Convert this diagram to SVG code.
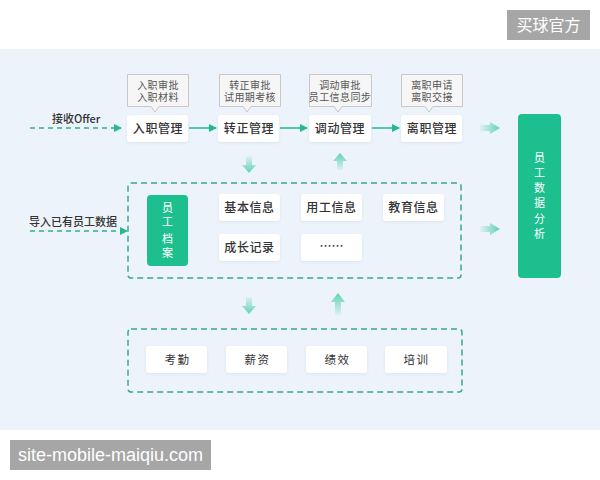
<svg xmlns="http://www.w3.org/2000/svg" width="600" height="480" viewBox="0 0 600 480">
<defs>
<style>
.t{font-family:"Noto Sans CJK SC","Noto Sans",sans-serif;}
.node{fill:#ffffff;filter:url(#sh);}
.nt{font-size:12px;fill:#333;font-weight:500;text-anchor:middle;letter-spacing:0.6px;}
.bt{font-size:11.5px;fill:#333;text-anchor:middle;letter-spacing:1.5px;}
.tip{fill:#f6f6f6;stroke:#c8c8c8;stroke-width:1;}
.tt{font-size:10px;fill:#555;text-anchor:middle;letter-spacing:0.4px;}
.vt{font-size:11px;fill:#ffffff;text-anchor:middle;}
.green{fill:#1dbf8e;}
.dbox{fill:none;stroke:#3aa88a;stroke-width:1.5;stroke-dasharray:6 4;}
.dl{stroke:#2fb08a;stroke-width:1.5;stroke-dasharray:5 4;fill:none;}
.sl{stroke:#22b98b;stroke-width:1.5;fill:none;}
.lbl{font-size:11px;fill:#333;font-weight:500;}
</style>
<filter id="sh" x="-20%" y="-30%" width="140%" height="160%">
<feDropShadow dx="0" dy="1" stdDeviation="1.5" flood-color="#9fb3c8" flood-opacity="0.25"/>
</filter>
<marker id="ah" markerWidth="8" markerHeight="8" refX="7" refY="4" orient="auto" markerUnits="userSpaceOnUse">
<path d="M0,0 L8,4 L0,8 Z" fill="#22b98b"/>
</marker>
<linearGradient id="gr" x1="0" y1="0" x2="1" y2="0">
<stop offset="0" stop-color="#5fd3b0" stop-opacity="0.1"/>
<stop offset="1" stop-color="#5fd3b0" stop-opacity="1"/>
</linearGradient>
<linearGradient id="gd" x1="0" y1="0" x2="0" y2="1">
<stop offset="0" stop-color="#5fd3b0" stop-opacity="0.1"/>
<stop offset="1" stop-color="#5fd3b0" stop-opacity="1"/>
</linearGradient>
<linearGradient id="gu" x1="0" y1="1" x2="0" y2="0">
<stop offset="0" stop-color="#5fd3b0" stop-opacity="0.1"/>
<stop offset="1" stop-color="#5fd3b0" stop-opacity="1"/>
</linearGradient>
</defs>
<rect x="0" y="0" width="600" height="480" fill="#ffffff"/>
<rect x="0" y="49" width="600" height="381" fill="#edf3fb"/>

<g id="connectors">
<line class="dl" x1="30" y1="128" x2="121" y2="128" marker-end="url(#ah)"/>
<line class="dl" x1="30" y1="231" x2="127" y2="231" marker-end="url(#ah)"/>
<line class="sl" x1="189" y1="128" x2="216" y2="128" marker-end="url(#ah)"/>
<line class="sl" x1="280" y1="128" x2="307" y2="128" marker-end="url(#ah)"/>
<line class="sl" x1="372" y1="128" x2="399" y2="128" marker-end="url(#ah)"/>
<path d="M480,125 L490,125 L490,122 L500,128 L490,134 L490,131 L480,131 Z" fill="url(#gr)"/>
<path d="M480,226 L490,226 L490,223 L500,229 L490,235 L490,232 L480,232 Z" fill="url(#gr)"/>
<path d="M246,156 L252,156 L252,165 L256,165 L249,173 L242,165 L246,165 Z" fill="url(#gd)"/>
<path d="M337,170 L343,170 L343,161 L347,161 L340,153 L333,161 L337,161 Z" fill="url(#gu)"/>
<path d="M246,297 L252,297 L252,306 L256,306 L249,314 L242,306 L246,306 Z" fill="url(#gd)"/>
<path d="M335,315 L341,315 L341,302 L345,302 L338,293 L331,302 L335,302 Z" fill="url(#gu)"/>
<text class="t lbl" x="52" y="123">接收Offer</text>
<text class="t lbl" x="29" y="226">导入已有员工数据</text>
</g>

<g id="tip1">
<path class="tip" d="M127.5,74.5 H188.5 V106.5 H159 L155,112 L151,106.5 H127.5 Z"/>
<text class="t tt" x="158" y="89">入职审批<tspan x="158" dy="11.5">入职材料</tspan></text>
</g>
<g id="tip2">
<path class="tip" d="M219.5,74.5 H280.5 V106.5 H251 L247,112 L243,106.5 H219.5 Z"/>
<text class="t tt" x="250" y="89">转正审批<tspan x="250" dy="11.5">试用期考核</tspan></text>
</g>
<g id="tip3">
<path class="tip" d="M309.5,74.5 H371.5 V106.5 H342 L338,112 L334,106.5 H309.5 Z"/>
<text class="t tt" x="340" y="89">调动审批<tspan x="340" dy="11.5">员工信息同步</tspan></text>
</g>
<g id="tip4">
<path class="tip" d="M401.5,74.5 H462.5 V106.5 H433 L429,112 L425,106.5 H401.5 Z"/>
<text class="t tt" x="432" y="89">离职申请<tspan x="432" dy="11.5">离职交接</tspan></text>
</g>

<g id="n-ruzhi"><rect class="node" x="127" y="115" width="61" height="27" rx="3"/><text class="t nt" x="158" y="133">入职管理</text></g>
<g id="n-zhuanzheng"><rect class="node" x="218" y="115" width="61" height="27" rx="3"/><text class="t nt" x="249" y="133">转正管理</text></g>
<g id="n-diaodong"><rect class="node" x="309" y="115" width="62" height="27" rx="3"/><text class="t nt" x="340" y="133">调动管理</text></g>
<g id="n-lizhi"><rect class="node" x="401" y="115" width="61" height="27" rx="3"/><text class="t nt" x="432" y="133">离职管理</text></g>

<g id="n-analysis">
<rect class="green" x="518" y="114" width="43" height="164" rx="4"/>
<text class="t vt" x="539.5" y="162">员</text>
<text class="t vt" x="539.5" y="177">工</text>
<text class="t vt" x="539.5" y="192">数</text>
<text class="t vt" x="539.5" y="207">据</text>
<text class="t vt" x="539.5" y="223">分</text>
<text class="t vt" x="539.5" y="238">析</text>
</g>

<g id="archive-group">
<rect class="dbox" x="128" y="183" width="333" height="95" rx="3"/>
</g>
<g id="n-archive">
<rect class="green" x="147" y="195" width="41" height="71" rx="4"/>
<text class="t vt" x="167.5" y="212">员</text>
<text class="t vt" x="167.5" y="226">工</text>
<text class="t vt" x="167.5" y="243">档</text>
<text class="t vt" x="167.5" y="257">案</text>
</g>
<g id="n-basic"><rect class="node" x="219" y="194" width="61" height="27" rx="3"/><text class="t nt" x="249.5" y="212">基本信息</text></g>
<g id="n-employ"><rect class="node" x="301" y="194" width="61" height="27" rx="3"/><text class="t nt" x="331.5" y="212">用工信息</text></g>
<g id="n-edu"><rect class="node" x="383" y="194" width="61" height="27" rx="3"/><text class="t nt" x="413.5" y="212">教育信息</text></g>
<g id="n-growth"><rect class="node" x="219" y="234" width="61" height="27" rx="3"/><text class="t nt" x="249.5" y="252">成长记录</text></g>
<g id="n-more"><rect class="node" x="301" y="234" width="61" height="27" rx="3"/><text class="t nt" x="331.5" y="251" style="letter-spacing:0">……</text></g>

<g id="modules-group">
<rect class="dbox" x="128" y="329" width="334" height="63" rx="3"/>
</g>
<g id="n-attend"><rect class="node" x="146" y="346" width="61" height="27" rx="3"/><text class="t bt" x="177.5" y="364">考勤</text></g>
<g id="n-salary"><rect class="node" x="226" y="346" width="61" height="27" rx="3"/><text class="t bt" x="257.5" y="364">薪资</text></g>
<g id="n-perf"><rect class="node" x="306" y="346" width="61" height="27" rx="3"/><text class="t bt" x="337.5" y="364">绩效</text></g>
<g id="n-train"><rect class="node" x="385" y="346" width="62" height="27" rx="3"/><text class="t bt" x="416.5" y="364">培训</text></g>

<g id="wm-top"><rect x="507" y="10" width="83" height="30" fill="#a6a6a6"/><text class="t" x="548.5" y="31" font-size="16" fill="#ffffff" text-anchor="middle">买球官方</text></g>
<g id="wm-bottom"><rect x="10" y="440" width="201" height="30" fill="#a6a6a6"/><text x="110.5" y="461" font-family="Liberation Sans, Arial, sans-serif" font-size="18" fill="#ffffff" text-anchor="middle">site-mobile-maiqiu.com</text></g>
</svg>
